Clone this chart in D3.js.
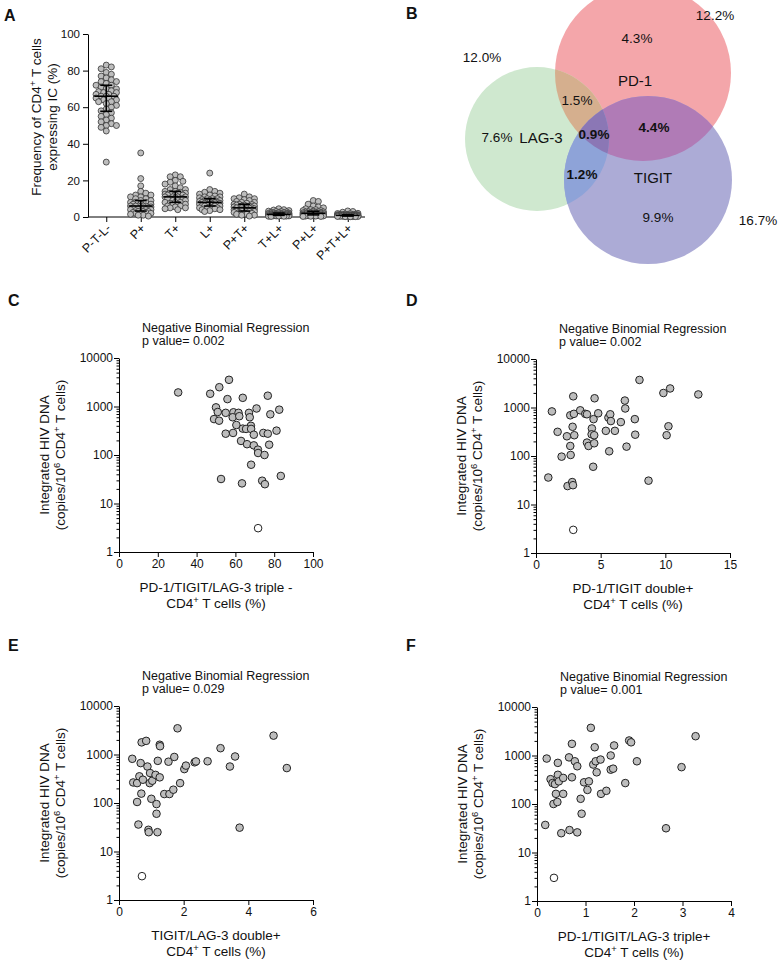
<!DOCTYPE html>
<html><head><meta charset="utf-8">
<script src="https://cdn.jsdelivr.net/npm/d3@7"></script>
<style>
body{margin:0;background:#fff}
svg{display:block}
text{font-family:"Liberation Sans",Arial,sans-serif;fill:#111}
</style>
</head><body>
<svg id="c" width="780" height="963"></svg>
<script>
// ---------------- DATA ----------------
// Panel A: frequency of CD4+ T cells expressing immune checkpoints (%)
const categoriesA = ["P-T-L-","P+","T+","L+","P+T+","T+L+","P+L+","P+T+L+"];
const aPnTnLn = [83,82,81,79,78,77,76,75,74,74,73,72,72,71,70,70,69,68,68,67,67,66,66,66,65,65,64,64,63,63,62,61,60,59,58,57,56,55,54,53,52,51,50,50,49,47,30,68.5];
const aP = [35,21,17,14,13,12,12,11,11,10,10,9,9,8,8,8,7,7,7,6,6,6,6,6,5.5,5,5,5,5,4.5,4,4,4,3.5,3.5,3,3,3,2.5,2.5,2,2,2,1.5,1,1,0.5];
const aT = [23,22,22,20,19.5,19,18,17,16,15,15,14,14,13,13,13,12,12,12,11,11,11,11,10,10,10,10,9,9,9,8,8,8,7.5,7,7,6.5,6,6,5.5,5,5,4.5,4,13.5,12.5,10.5];
const aL = [24,15,14,13.5,13,12.5,12,11.5,11,11,10.5,10,10,10,9.5,9,9,9,8.5,8.5,8,8,8,8,7.5,7.5,7,7,7,6.5,6.5,6,6,6,5.5,5,5,5,4.5,4.5,4,4,3.5,3,9.2,7.8,6.2];
const aPT = [12.5,11,10.5,10,10,9.5,9,8.5,8,8,7.5,7,7,6.5,6.5,6,6,6,5.5,5.5,5,5,5,5,4.5,4.5,4,4,4,3.5,3.5,3,3,3,2.5,2.5,2,2,1.5,1.5,1,1,0.5,4.8,5.2,6.8,3.8];
const aTL = [4.5,4,3.8,3.5,3.2,3,3,2.8,2.6,2.5,2.4,2.2,2.1,2,2,1.9,1.8,1.7,1.6,1.5,1.5,1.4,1.4,1.3,1.2,1.2,1.1,1,1,0.9,0.9,0.8,0.8,0.7,0.7,0.6,0.6,0.5,0.5,0.4,0.4,0.3,1.6,1.3,1.1,0.9,1.7];
const aPL = [9,8.5,7,6,5.5,5,4.5,4,4,3.5,3.5,3.2,3,3,2.8,2.6,2.5,2.4,2.2,2.1,2,2,1.9,1.8,1.7,1.6,1.5,1.4,1.3,1.2,1.1,1,1,0.9,0.8,0.7,0.6,0.5,0.5,0.4,0.3,0.3,2.3,1.9,1.5,1.2,2.7];
const aPTL = [3.3,3,2.6,2,1.9,1.8,1.6,1.5,1.4,1.3,1.3,1.2,1.2,1.1,1.1,1,1,1,0.9,0.9,0.9,0.8,0.8,0.8,0.7,0.7,0.7,0.6,0.6,0.5,0.5,0.5,0.4,0.4,0.4,0.3,0.3,0.3,0.2,0.2,0.2,0.15,1.05,0.95,0.75,0.65,1.25];
const seriesA = [aPnTnLn,aP,aT,aL,aPT,aTL,aPL,aPTL];
const yTicksA = [0,20,40,60,80,100];

// Panel B: Venn diagram
const vennSetNames = ["PD-1","LAG-3","TIGIT"];
const vennTotals = ["12.2%","12.0%","16.7%"];
const vennRegionValues = ["4.3%","7.6%","9.9%","1.5%","4.4%","1.2%","0.9%"]; // P only, L only, T only, P∩L, P∩T, L∩T, P∩L∩T

// Panels C-F: integrated HIV DNA (copies/10^6 CD4+ T cells) vs. % cells
const dataC = [[30.5,1950],[47,1830],[51.7,2500],[56.7,3550],[55.9,1420],[63.8,1510],[76.7,1670],[50,960],[50.9,770],[55,740],[59,760],[61.6,740],[67,740],[70.9,910],[82.6,860],[78,690],[49,550],[51.6,510],[58.6,600],[62,630],[67.4,600],[60.5,415],[68,400],[63.8,350],[65.5,345],[68.1,345],[55,275],[58.8,285],[69.5,262],[74.4,285],[76.7,275],[81.2,318],[62.9,195],[66,167],[69.5,158],[77.4,163],[71.6,129],[71.7,110],[75,100],[68.1,63],[52.6,32],[63.4,26],[73.8,29.5],[75.2,25],[83.4,37]];
const openC = [71.7,3.1];
const dataD = [[0.95,36],[1.23,830],[1.67,315],[1.98,97],[2.39,255],[2.44,24],[2.65,690],[2.65,161],[2.68,105],[2.8,29],[2.86,25],[2.83,400],[2.88,1700],[2.93,740],[2.96,268],[3.42,875],[3.81,740],[3.94,725],[3.94,189],[4.06,161],[4.32,370],[4.3,280],[4.45,575],[4.5,268],[4.5,183],[4.53,1550],[4.42,60],[4.81,760],[5.4,330],[5.6,620],[5.74,725],[5.79,525],[5.66,125],[6.1,330],[6.56,500],[6.87,1390],[6.9,955],[7.0,156],[7.64,575],[7.67,275],[8.0,3700],[8.7,31],[9.85,1990],[10.37,2470],[10.24,410],[10.1,268],[12.55,1860]];
const openD = [2.88,3.0];
const dataE = [[0.41,815],[0.44,265],[0.56,257],[0.56,105],[0.6,36],[0.63,355],[0.67,665],[0.69,156],[0.7,1780],[0.74,302],[0.84,1910],[0.88,565],[0.91,28],[0.92,25],[0.96,415],[0.95,257],[1.0,122],[1.03,288],[1.13,380],[1.16,95],[1.16,60],[1.19,25],[1.2,740],[1.26,1590],[1.27,1480],[1.26,338],[1.4,153],[1.53,710],[1.56,153],[1.68,188],[1.71,890],[1.81,3470],[1.89,257],[2.02,500],[2.07,590],[2.34,690],[2.38,720],[2.74,725],[3.14,1350],[3.43,565],[3.59,910],[3.73,31],[4.78,2450],[5.19,525]];
const openE = [0.71,3.1];
const dataF = [[0.17,37],[0.2,865],[0.28,325],[0.32,270],[0.34,100],[0.37,257],[0.39,162],[0.42,110],[0.43,705],[0.43,400],[0.45,293],[0.5,25],[0.54,345],[0.54,162],[0.67,29],[0.66,915],[0.72,1740],[0.72,355],[0.78,760],[0.83,600],[0.83,26],[0.9,128],[0.92,63],[0.97,280],[1.04,195],[1.07,293],[1.11,3720],[1.16,650],[1.19,1480],[1.21,760],[1.23,450],[1.31,825],[1.32,162],[1.43,187],[1.52,1000],[1.52,510],[1.57,535],[1.59,1610],[1.82,270],[1.9,2040],[1.94,1870],[2.06,760],[2.66,31.6],[2.98,575],[3.27,2500]];
const openF = [0.35,3.0];
const xTicksC = [0,20,40,60,80,100];
const xTicksD = [0,5,10,15];
const xTicksE = [0,2,4,6];
const xTicksF = [0,1,2,3,4];
const yTicksLog = [1,10,100,1000,10000];
const statLabel = "Negative Binomial Regression";
const pValues = ["0.002","0.002","0.029","0.001"];
const xTitles = [["PD-1/TIGIT/LAG-3 triple -","CD4^+ T cells (%)"],["PD-1/TIGIT double+","CD4^+ T cells (%)"],["TIGIT/LAG-3 double+","CD4^+ T cells (%)"],["PD-1/TIGIT/LAG-3 triple+","CD4^+ T cells (%)"]];

// ---------------- DRAWING ----------------
const svg = d3.select("#c");

function rich(t, str, supSize){
  str.split(/(\^.)/).filter(s=>s.length).forEach(p=>{
    if(p[0]==='^') t.append('tspan').attr('baseline-shift','super').attr('font-size',supSize||'0.7em').text(p.slice(1));
    else t.append('tspan').text(p);
  });
  return t;
}
function panelLetter(x,y,l){
  svg.append("text").attr("x",x).attr("y",y).attr("font-size",16).attr("font-weight","bold").text(l);
}
function styleAxis(g,fs){
  g.selectAll("path,line").attr("stroke","#000").attr("stroke-width",1);
  g.selectAll("text").attr("font-size",fs).attr("fill","#111").style("font-family",'"Liberation Sans",Arial,sans-serif');
}

// ---- Panel A ----
panelLetter(4,21,"A");
const xA = d3.scalePoint().domain(categoriesA).range([89,365]).padding(0.5);
const yA = d3.scaleLinear().domain([0,100]).range([217,34]);
const gAy = svg.append("g").attr("transform","translate(88,0)")
  .call(d3.axisLeft(yA).tickValues(yTicksA).tickSize(5).tickSizeOuter(0));
styleAxis(gAy,11.5);
const gAx = svg.append("g").attr("transform","translate(0,217)")
  .call(d3.axisBottom(xA).tickSize(5).tickSizeOuter(0));
styleAxis(gAx,12.5);
gAx.select(".domain").attr("d","M88,0H365");
gAx.selectAll(".tick text").attr("x",0).attr("y",0).attr("dy",null)
  .attr("text-anchor","end").attr("transform","translate(5,12) rotate(-45)");
const yTitleA = svg.append("text").attr("transform","translate(41,117) rotate(-90)").attr("text-anchor","middle").attr("font-size",13.5);
rich(yTitleA,"Frequency of CD4^+ T cells");
svg.append("text").attr("transform","translate(57,117) rotate(-90)").attr("text-anchor","middle").attr("font-size",13.5).text("expressing IC (%)");

const rA = 3;
function dodge(vals,cx){
  const pts = vals.map(v=>({v,y:yA(v)})).sort((a,b)=>a.y-b.y);
  const placed=[]; const step=rA*0.85; const minD=2*rA*0.85; const maxOff=11.5;
  pts.forEach(p=>{
    let best=0,bestScore=-Infinity;
    for(let k=0;k<40;k++){
      const off=(k%2?1:-1)*Math.ceil(k/2)*step;
      if(Math.abs(off)>maxOff)break;
      const md=placed.length?d3.min(placed,q=>Math.hypot(q.dx-off,q.y-p.y)):Infinity;
      if(md>=minD){best=off;bestScore=Infinity;break;}
      if(md>bestScore){bestScore=md;best=off;}
    }
    p.dx=best;
    placed.push(p);
  });
  pts.forEach(p=>p.x=cx+p.dx);
  return pts;
}
const gA = svg.append("g");
categoriesA.forEach((c,i)=>{
  const cx=xA(c);
  const pts=dodge(seriesA[i],cx);
  gA.append("g").selectAll("circle").data(pts).join("circle")
    .attr("cx",d=>d.x).attr("cy",d=>d.y).attr("r",rA)
    .attr("fill","#bdbdbd").attr("stroke","#333").attr("stroke-width",0.8);
  const s=seriesA[i].slice().sort(d3.ascending);
  const med=d3.quantile(s,0.5), q1=d3.quantile(s,0.25), q3=d3.quantile(s,0.75);
  const g=gA.append("g").attr("stroke","#000").attr("stroke-width",1.6);
  g.append("line").attr("x1",cx-12).attr("x2",cx+12).attr("y1",yA(med)).attr("y2",yA(med));
  g.append("line").attr("x1",cx).attr("x2",cx).attr("y1",yA(q1)).attr("y2",yA(q3));
  g.append("line").attr("x1",cx-6).attr("x2",cx+6).attr("y1",yA(q1)).attr("y2",yA(q1));
  g.append("line").attr("x1",cx-6).attr("x2",cx+6).attr("y1",yA(q3)).attr("y2",yA(q3));
});

// ---- Panel B (Venn) ----
panelLetter(406,19,"B");
const vennCircles = [
  {id:"vP",cx:643,cy:73,r:88,fill:"#f4a6aa"},
  {id:"vL",cx:537,cy:139,r:72,fill:"#cfe8cf"},
  {id:"vT",cx:648,cy:180,r:84,fill:"#acabd6"}
];
const defs = svg.append("defs");
vennCircles.forEach(c=>defs.append("clipPath").attr("id","clip-"+c.id).append("circle").attr("cx",c.cx).attr("cy",c.cy).attr("r",c.r));
const gB = svg.append("g");
const circ=(g,c,fill)=>g.append("circle").attr("cx",c.cx).attr("cy",c.cy).attr("r",c.r).attr("fill",fill);
vennCircles.forEach(c=>circ(gB,c,c.fill));
const [cP,cL,cT]=vennCircles;
circ(gB.append("g").attr("clip-path","url(#clip-vP)"),cL,"#d5af8e");
circ(gB.append("g").attr("clip-path","url(#clip-vP)"),cT,"#b07bb6");
circ(gB.append("g").attr("clip-path","url(#clip-vL)"),cT,"#8ea3d8");
circ(gB.append("g").attr("clip-path","url(#clip-vP)").append("g").attr("clip-path","url(#clip-vL)"),cT,"#8b77b5");

const vennTextPos = {
  totals:[[715,15],[482,57],[758,220]],
  regions:[[637,38],[497,137],[658,217],[577,100],[654,127],[582,174],[594,134]],
  names:[[635,80],[541,137],[653,177]]
};
const bold=[false,false,false,false,true,true,true];
vennTotals.forEach((t,i)=>svg.append("text").attr("x",vennTextPos.totals[i][0]).attr("y",vennTextPos.totals[i][1]).attr("text-anchor","middle").attr("dominant-baseline","central").attr("font-size",13.5).text(t));
vennRegionValues.forEach((t,i)=>svg.append("text").attr("x",vennTextPos.regions[i][0]).attr("y",vennTextPos.regions[i][1]).attr("text-anchor","middle").attr("dominant-baseline","central").attr("font-size",13.5).attr("font-weight",bold[i]?"bold":"normal").text(t));
vennSetNames.forEach((t,i)=>svg.append("text").attr("x",vennTextPos.names[i][0]).attr("y",vennTextPos.names[i][1]).attr("text-anchor","middle").attr("dominant-baseline","central").attr("font-size",15).text(t));

// ---- Panels C-F ----
const scatterPanels = [
  {letter:"C",lx:8,ly:306,left:119,bottom:552,data:dataC,open:openC,xDom:[0,100],xt:xTicksC},
  {letter:"D",lx:406,ly:306,left:536,bottom:553,data:dataD,open:openD,xDom:[0,15],xt:xTicksD},
  {letter:"E",lx:8,ly:651,left:119,bottom:900,data:dataE,open:openE,xDom:[0,6],xt:xTicksE},
  {letter:"F",lx:406,ly:651,left:537,bottom:901,data:dataF,open:openF,xDom:[0,4],xt:xTicksF}
];
const W=194,H=194;
const minorTicks=[];
for(let e=0;e<4;e++)for(let m=2;m<=9;m++)minorTicks.push(m*Math.pow(10,e));
scatterPanels.forEach((p,i)=>{
  panelLetter(p.lx,p.ly,p.letter);
  const x=d3.scaleLinear().domain(p.xDom).range([p.left,p.left+W]);
  const y=d3.scaleLog().domain([1,10000]).range([p.bottom,p.bottom-H]);
  const gy=svg.append("g").attr("transform",`translate(${p.left},0)`)
    .call(d3.axisLeft(y).tickValues(yTicksLog).tickFormat(d3.format("d")).tickSize(5).tickSizeOuter(0).tickPadding(1));
  styleAxis(gy,12);
  const gm=svg.append("g").attr("transform",`translate(${p.left},0)`)
    .call(d3.axisLeft(y).tickValues(minorTicks).tickFormat("").tickSize(2.5).tickSizeOuter(0));
  gm.select(".domain").remove();
  styleAxis(gm,12);
  const gx=svg.append("g").attr("transform",`translate(0,${p.bottom})`)
    .call(d3.axisBottom(x).tickValues(p.xt).tickFormat(d3.format("d")).tickSize(5).tickSizeOuter(0).tickPadding(2));
  styleAxis(gx,12);
  // titles
  const cx=p.left+W/2, cy=p.bottom-H/2;
  svg.append("text").attr("transform",`translate(${p.left-70},${cy}) rotate(-90)`).attr("text-anchor","middle").attr("font-size",13.5).text("Integrated HIV DNA");
  rich(svg.append("text").attr("transform",`translate(${p.left-54},${cy}) rotate(-90)`).attr("text-anchor","middle").attr("font-size",13.5),"(copies/10^6 CD4^+ T cells)");
  svg.append("text").attr("x",cx).attr("y",p.bottom+40).attr("text-anchor","middle").attr("font-size",13.5).text(xTitles[i][0]);
  rich(svg.append("text").attr("x",cx).attr("y",p.bottom+56).attr("text-anchor","middle").attr("font-size",13.5),xTitles[i][1]);
  svg.append("text").attr("x",p.left+23).attr("y",p.bottom-H-26).attr("font-size",12.5).text(statLabel);
  svg.append("text").attr("x",p.left+23).attr("y",p.bottom-H-13).attr("font-size",12.5).text("p value= "+pValues[i]);
  // points
  svg.append("g").selectAll("circle").data(p.data).join("circle")
    .attr("cx",d=>x(d[0])).attr("cy",d=>y(d[1])).attr("r",3.8)
    .attr("fill","#bdbdbd").attr("stroke","#222").attr("stroke-width",1);
  svg.append("circle").attr("cx",x(p.open[0])).attr("cy",y(p.open[1])).attr("r",3.8)
    .attr("fill","#fff").attr("stroke","#222").attr("stroke-width",1);
});
</script>
</body></html>
